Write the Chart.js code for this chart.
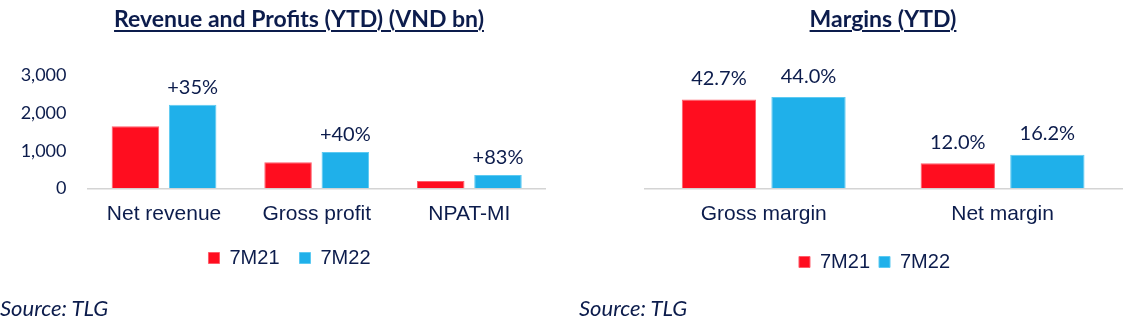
<!DOCTYPE html>
<html>
<head>
<meta charset="utf-8">
<script src="https://cdn.jsdelivr.net/npm/chart.js@4.4.0/dist/chart.umd.min.js"></script>
<style>
  html, body { margin: 0; padding: 0; background: #fff; }
  #wrap { position: relative; width: 1132px; height: 332px; overflow: hidden; }
  canvas { position: absolute; top: 0; }
  .title {
    position: absolute; top: 5px; text-align: center;
    font: bold 23px Lato, sans-serif; color: #0c1c4c; line-height: 26px;
  }
  .title span { text-decoration: underline; text-decoration-thickness: 2px; text-underline-offset: 3px; }
  .src {
    position: absolute; top: 295px;
    font: italic 22px Lato, sans-serif; color: #0c1c4c; line-height: 26px;
  }
</style>
</head>
<body>
<div id="wrap">
  <canvas id="revChart" width="579" height="332" style="left:0"></canvas>
  <canvas id="marChart" width="553" height="332" style="left:579px"></canvas>
  <div class="title" style="left:0;width:598px"><span>Revenue and Profits (YTD) (VND bn)</span></div>
  <div class="title" style="left:634px;width:498px"><span>Margins (YTD)</span></div>
  <div class="src" style="left:0">Source: TLG</div>
  <div class="src" style="left:579px">Source: TLG</div>
</div>
<script>
// data
const revCategories = ['Net revenue', 'Gross profit', 'NPAT-MI'];
const rev7M21 = [1650, 690, 195];
const rev7M22 = [2225, 965, 357];
const revGrowth = ['+35%', '+40%', '+83%'];
const revTicks = [0, 1000, 2000, 3000];

const marCategories = ['Gross margin', 'Net margin'];
const mar7M21 = [42.7, 12.0];
const mar7M22 = [44.0, 16.2];

const seriesNames = ['7M21', '7M22'];
const RED = '#ff0d1f';
const BLUE = '#1fb0ea';
const NAVY = '#0c1c4c';

// labels over bars, text taken from dataset.barLabels
const barLabels = {
    id: 'barLabels',
    afterDatasetsDraw(chart, args, opts) {
        const ctx = chart.ctx;
        ctx.save();
        ctx.font = '20px Lato';
        ctx.fillStyle = NAVY;
        ctx.textAlign = 'center';
        ctx.textBaseline = 'middle';
        chart.data.datasets.forEach((ds, i) => {
            if (!ds.barLabels) return;
            chart.getDatasetMeta(i).data.forEach((bar, j) => {
                ctx.fillText(ds.barLabels[j], bar.x, bar.y - opts.offset);
            });
        });
        ctx.restore();
    }
};

function xAxis(height, pad) {
    return {
        grid: { display: false, drawTicks: false },
        border: { display: true, color: '#d4d4d4', width: 1.5 },
        ticks: { color: NAVY, padding: pad, font: { family: 'Liberation Sans', size: 21 } },
        afterFit: s => { s.height = height; }
    };
}

// empty axis, only used to reserve room
function spacer(pos, width) {
    return {
        position: pos,
        grid: { display: false, drawTicks: false },
        border: { display: false },
        ticks: { display: false },
        afterFit: s => { s.width = width; }
    };
}

function legendOpts(pad) {
    return {
        position: 'bottom',
        labels: {
            boxWidth: 11, boxHeight: 11, padding: pad, color: NAVY,
            font: { family: 'Liberation Sans', size: 20 }
        }
    };
}

new Chart(document.getElementById('revChart'), {
    type: 'bar',
    data: {
        labels: revCategories,
        datasets: [
            { label: seriesNames[0], data: rev7M21, backgroundColor: RED, borderColor: '#ff5d6a', borderWidth: 1 },
            { label: seriesNames[1], data: rev7M22, backgroundColor: BLUE, borderColor: '#5ccaf2', borderWidth: 1, barLabels: revGrowth }
        ]
    },
    options: {
        responsive: false,
        animation: false,
        categoryPercentage: 0.75,
        barPercentage: 0.83,
        layout: { padding: { top: 75.5, left: 15, right: 15, bottom: 54 } },
        scales: {
            x: xAxis(39.7, 13),
            y: {
                min: 0, max: 3000,
                afterBuildTicks: s => { s.ticks = revTicks.map(v => ({ value: v })); },
                grid: { display: false, drawTicks: false },
                border: { display: false },
                ticks: { color: NAVY, padding: 21.2, font: { family: 'Lato', size: 18 } },
                afterFit: s => { s.width = 72.7; }
            },
            yR: spacer('right', 18.3)
        },
        plugins: {
            legend: legendOpts(20),
            tooltip: { enabled: false },
            barLabels: { offset: 17 }
        }
    },
    plugins: [barLabels]
});

new Chart(document.getElementById('marChart'), {
    type: 'bar',
    data: {
        labels: marCategories,
        datasets: [
            { label: seriesNames[0], data: mar7M21, backgroundColor: RED, borderColor: '#ff5d6a', borderWidth: 1,
              barLabels: mar7M21.map(v => v.toFixed(1) + '%') },
            { label: seriesNames[1], data: mar7M22, backgroundColor: BLUE, borderColor: '#5ccaf2', borderWidth: 1,
              barLabels: mar7M22.map(v => v.toFixed(1) + '%') }
        ]
    },
    options: {
        responsive: false,
        animation: false,
        categoryPercentage: 0.75,
        barPercentage: 0.83,
        layout: { padding: { top: 75.5, left: 48, right: 10, bottom: 50 } },
        scales: {
            x: xAxis(54.7, 13),
            y: Object.assign(spacer('left', 17.3), { min: 0, max: 54.3 })
        },
        plugins: {
            legend: legendOpts(9),
            tooltip: { enabled: false },
            barLabels: { offset: 20.7 }
        }
    },
    plugins: [barLabels]
});
</script>
</body>
</html>
